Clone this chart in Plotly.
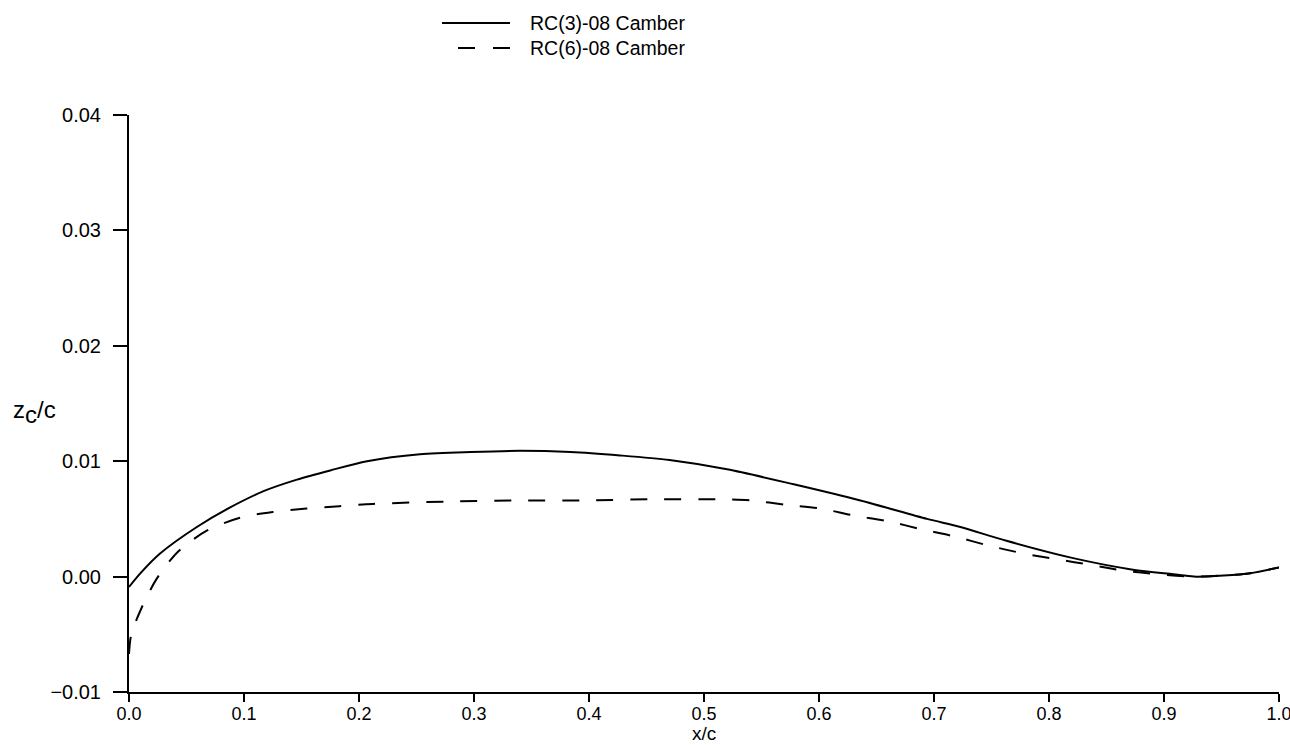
import plotly.graph_objects as go

# Data
rc3_x = [0.0, 0.010, 0.027, 0.059, 0.088, 0.117, 0.146, 0.175, 0.207, 0.253, 0.297, 0.340,
         0.384, 0.427, 0.470, 0.520, 0.578, 0.636, 0.694, 0.723, 0.763, 0.821, 0.873,
         0.908, 0.926, 0.952, 0.975, 1.0]
rc3_y = [-0.0009, 0.0003, 0.0020, 0.0043, 0.0060, 0.0074, 0.0084, 0.0092, 0.0100, 0.0106,
         0.0108, 0.0109, 0.0108, 0.0105, 0.0101, 0.0093, 0.0080, 0.0066, 0.0050, 0.0043,
         0.0031, 0.0016, 0.0006, 0.0002, 0.0000, 0.0001, 0.0003, 0.0008]

rc6_x = [0.0, 0.002, 0.011, 0.024, 0.043, 0.068, 0.0965, 0.125, 0.1545, 0.183, 0.212, 0.276,
         0.334, 0.395, 0.4545, 0.511, 0.5415, 0.572, 0.601, 0.630, 0.660, 0.689, 0.717,
         0.747, 0.778, 0.807, 0.837, 0.866, 0.895, 0.926, 0.952, 0.975, 1.0]
rc6_y = [-0.0067, -0.0050, -0.0027, -0.0002, 0.0022, 0.0040, 0.0051, 0.0056, 0.0059, 0.0061,
         0.0063, 0.0065, 0.0066, 0.0066, 0.0067, 0.0067, 0.0066, 0.0062, 0.0059, 0.0053,
         0.0048, 0.0041, 0.0035, 0.0027, 0.0020, 0.0015, 0.0010, 0.0005, 0.0002, 0.0000,
         0.0001, 0.0003, 0.0008]

series_names = ["RC(3)-08 Camber", "RC(6)-08 Camber"]
x_ticks = [0.0, 0.1, 0.2, 0.3, 0.4, 0.5, 0.6, 0.7, 0.8, 0.9, 1.0]
x_labels = ["0.0", "0.1", "0.2", "0.3", "0.4", "0.5", "0.6", "0.7", "0.8", "0.9", "1.0"]
y_ticks = [-0.01, 0.0, 0.01, 0.02, 0.03, 0.04]

FONT = "Liberation Sans, Arial, Helvetica, sans-serif"

fig = go.Figure()
fig.add_trace(go.Scatter(x=rc3_x, y=rc3_y, mode="lines", name=series_names[0],
                         line=dict(color="black", width=2, shape="spline", smoothing=0.8)))
fig.add_trace(go.Scatter(x=rc6_x, y=rc6_y, mode="lines", name=series_names[1],
                         line=dict(color="black", width=2, shape="spline", smoothing=0.8,
                                   dash="17px,17px")))

# Custom legend (line samples + labels) above the plot
leg_rows = [(1.1594, "solid", 0.2722), (1.1161, "17px,18px", 0.2861)]
for (yy, dash, x0), name in zip(leg_rows, series_names):
    fig.add_shape(type="line", xref="paper", yref="paper", x0=x0, x1=0.3313, y0=yy, y1=yy,
                  line=dict(color="black", width=2, dash=dash))
    fig.add_annotation(xref="paper", yref="paper", x=0.3470, y=yy, text=name, showarrow=False,
                       xanchor="left", yanchor="middle",
                       font=dict(family=FONT, size=19.5, color="black"))

# Y axis title (horizontal)
fig.add_annotation(xref="paper", yref="paper", x=-0.0825, y=0.485,
                   text="z<sub><span style='font-size:24px'>c</span></sub>/c",
                   showarrow=False, xanchor="center", yanchor="middle",
                   font=dict(family=FONT, size=24, color="black"))

# X axis title
fig.add_annotation(xref="paper", yref="paper", x=0.5, y=-0.0715, text="x/c",
                   showarrow=False, xanchor="center", yanchor="middle",
                   font=dict(family=FONT, size=19, color="black"))

fig.update_layout(
    width=1290, height=745,
    margin=dict(l=129, r=11, t=115, b=53, autoexpand=False),
    paper_bgcolor="white", plot_bgcolor="white",
    showlegend=False,
    font=dict(family=FONT, color="black"),
    xaxis=dict(range=[0, 1.0], tickvals=x_ticks, ticktext=x_labels, automargin=False,
               ticklabeloverflow="allow",
               showgrid=False, zeroline=False, showline=True, linecolor="black", linewidth=2,
               ticks="outside", ticklen=8, tickwidth=1.5, tickcolor="black",
               tickfont=dict(family=FONT, size=18, color="black"), ticklabelstandoff=-4),
    yaxis=dict(range=[-0.01, 0.04], tickvals=y_ticks, tickformat=".2f", automargin=False,
               ticklabeloverflow="allow",
               showgrid=False, zeroline=False, showline=True, linecolor="black", linewidth=2,
               ticks="outside", ticklen=14, tickwidth=1.5, tickcolor="black",
               tickfont=dict(family=FONT, size=20, color="black"), ticklabelstandoff=8),
)

# Remove the default page margin so the figure sits at the window's top-left corner
fig.write_html("out.html", config={"displayModeBar": False},
               post_script="document.body.style.margin='0';")
